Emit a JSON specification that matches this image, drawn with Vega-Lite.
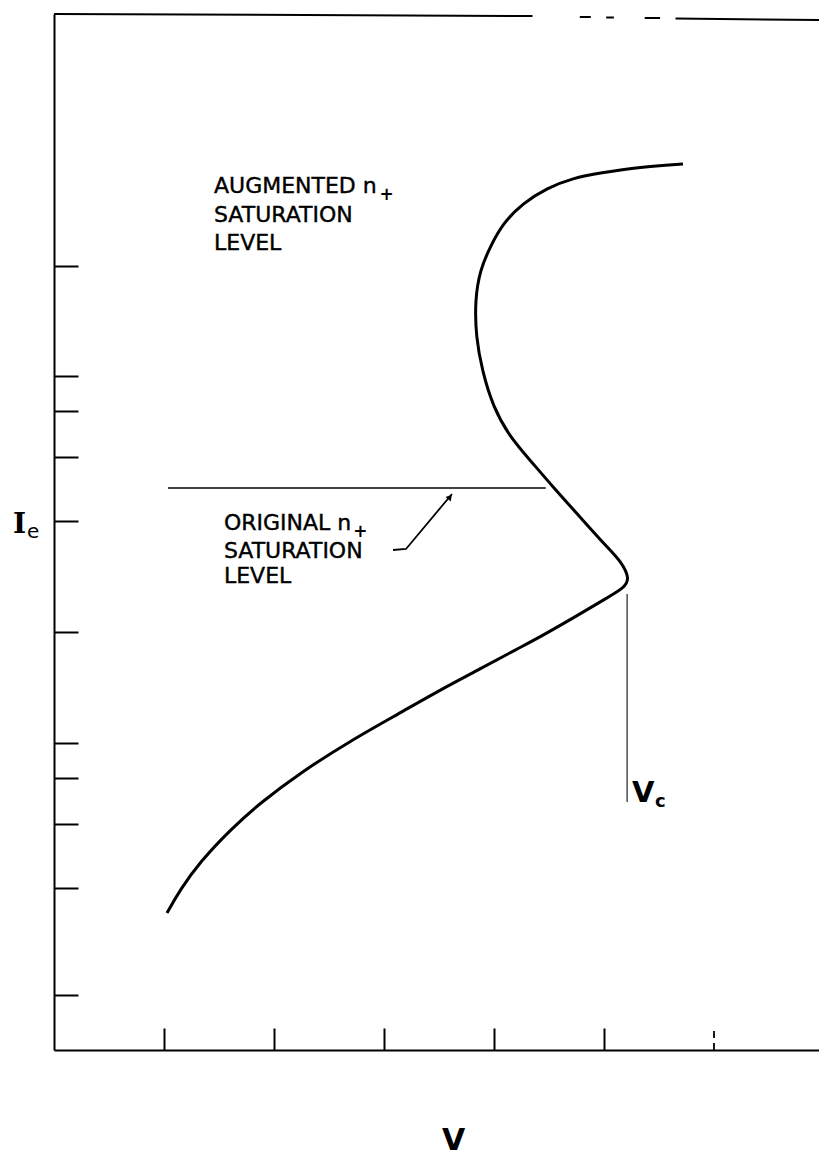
{
  "$schema": "https://vega.github.io/schema/vega-lite/v6.json",
  "width": 765,
  "height": 1036,
  "autosize": {"type": "none"},
  "padding": {"left": 54, "top": 14, "right": 0, "bottom": 107},
  "background": "white",
  "config": {"view": {"stroke": null}},
  "datasets": {
    "curve": [
      {"i": 1, "v": 1.027, "ie": 13.7},
      {"i": 2, "v": 1.145, "ie": 16.0},
      {"i": 3, "v": 1.327, "ie": 18.8},
      {"i": 4, "v": 1.6, "ie": 22.0},
      {"i": 5, "v": 1.873, "ie": 24.7},
      {"i": 6, "v": 2.236, "ie": 27.7},
      {"i": 7, "v": 2.691, "ie": 30.9},
      {"i": 8, "v": 3.145, "ie": 33.7},
      {"i": 9, "v": 3.509, "ie": 36.0},
      {"i": 10, "v": 3.873, "ie": 38.1},
      {"i": 11, "v": 4.209, "ie": 40.1},
      {"i": 12, "v": 4.418, "ie": 41.3},
      {"i": 13, "v": 4.718, "ie": 43.2},
      {"i": 14, "v": 5.027, "ie": 45.2},
      {"i": 15, "v": 5.18, "ie": 46.2},
      {"i": 16, "v": 5.235, "ie": 47.1},
      {"i": 17, "v": 5.16, "ie": 48.8},
      {"i": 18, "v": 5.027, "ie": 50.3},
      {"i": 19, "v": 4.782, "ie": 53.3},
      {"i": 20, "v": 4.536, "ie": 56.3},
      {"i": 21, "v": 4.327, "ie": 59.0},
      {"i": 22, "v": 4.145, "ie": 61.3},
      {"i": 23, "v": 3.991, "ie": 64.3},
      {"i": 24, "v": 3.891, "ie": 68.0},
      {"i": 25, "v": 3.836, "ie": 71.3},
      {"i": 26, "v": 3.827, "ie": 75.0},
      {"i": 27, "v": 3.873, "ie": 78.0},
      {"i": 28, "v": 3.964, "ie": 80.3},
      {"i": 29, "v": 4.082, "ie": 82.7},
      {"i": 30, "v": 4.264, "ie": 84.7},
      {"i": 31, "v": 4.482, "ie": 86.2},
      {"i": 32, "v": 4.718, "ie": 87.2},
      {"i": 33, "v": 4.964, "ie": 87.7},
      {"i": 34, "v": 5.327, "ie": 88.3},
      {"i": 35, "v": 5.718, "ie": 88.6}
    ],
    "frame": [
      {"v": 0, "v2": 4.35, "ie": 103.6, "ie2": 103.4},
      {"v": 4.78, "v2": 4.88, "ie": 103.3, "ie2": 103.3},
      {"v": 5.02, "v2": 5.09, "ie": 103.25, "ie2": 103.25},
      {"v": 5.37, "v2": 5.51, "ie": 103.2, "ie2": 103.2},
      {"v": 5.65, "v2": 6.96, "ie": 103.15, "ie2": 103.0}
    ],
    "levels": [
      {"v": 1.036, "v2": 4.47, "ie": 56.2, "ie2": 56.2}
    ],
    "vc": [
      {"v": 5.21, "v2": 5.21, "ie": 45.6, "ie2": 24.8}
    ],
    "leader": [
      {"i": 1, "v": 3.082, "ie": 50.0},
      {"i": 2, "v": 3.2, "ie": 50.1},
      {"i": 3, "v": 3.618, "ie": 55.6}
    ],
    "arrowhead": [{"v": 3.6, "ie": 55.3}],
    "notes": [
      {"v": 1.4545, "ie": 85.7, "label": "AUGMENTED  n"},
      {"v": 1.4545, "ie": 82.8, "label": "SATURATION"},
      {"v": 1.4545, "ie": 80.0, "label": "LEVEL"},
      {"v": 1.545, "ie": 52.0, "label": "ORIGINAL  n"},
      {"v": 1.545, "ie": 49.2, "label": "SATURATION"},
      {"v": 1.545, "ie": 46.7, "label": "LEVEL"}
    ],
    "plus": [
      {"v": 2.96, "ie": 85.0, "label": "+"},
      {"v": 2.72, "ie": 51.3, "label": "+"}
    ],
    "bigV": [{"v": 5.2545, "ie": 24.8, "label": "V"}],
    "subc": [{"v": 5.464, "ie": 24.3, "label": "c"}],
    "bigI": [{"v": -0.373, "ie": 51.7, "label": "I"}],
    "sube": [{"v": -0.245, "ie": 51.2, "label": "e"}],
    "lastTick": [{"v": 6, "ie": 0, "ie2": 2.2}]
  },
  "layer": [
    {
      "data": {"name": "curve"},
      "mark": {"type": "line", "color": "black", "strokeWidth": 3, "interpolate": "basis", "clip": false},
      "encoding": {
        "x": {
          "field": "v", "type": "quantitative",
          "scale": {"domain": [0, 6.9545], "nice": false, "zero": false},
          "axis": {
            "values": [1, 2, 3, 4, 5],
            "labels": false, "grid": false,
            "tickSize": -22, "tickWidth": 2, "tickColor": "black",
            "domainColor": "black", "domainWidth": 2,
            "title": "V", "titleFont": "DejaVu Sans", "titleFontSize": 30,
            "titleFontWeight": "bold", "titleColor": "black",
            "titleX": 399, "titleY": 90, "titleBaseline": "middle", "titleAlign": "center"
          }
        },
        "y": {
          "field": "ie", "type": "quantitative",
          "scale": {"domain": [0, 103.6], "nice": false, "zero": false},
          "axis": {
            "values": [5.5, 16.2, 22.6, 27.2, 30.7, 41.8, 52.9, 59.3, 63.9, 67.4, 78.4],
            "labels": false, "grid": false,
            "tickSize": -24, "tickWidth": 2, "tickColor": "black",
            "domainColor": "black", "domainWidth": 2,
            "title": null
          }
        },
        "order": {"field": "i", "type": "quantitative"}
      }
    },
    {
      "data": {"name": "frame"},
      "mark": {"type": "rule", "color": "black", "strokeWidth": 2, "clip": false},
      "encoding": {
        "x": {"field": "v", "type": "quantitative"},
        "x2": {"field": "v2"},
        "y": {"field": "ie", "type": "quantitative"},
        "y2": {"field": "ie2"}
      }
    },
    {
      "data": {"name": "levels"},
      "mark": {"type": "rule", "color": "black", "strokeWidth": 1.6},
      "encoding": {
        "x": {"field": "v", "type": "quantitative"},
        "x2": {"field": "v2"},
        "y": {"field": "ie", "type": "quantitative"},
        "y2": {"field": "ie2"}
      }
    },
    {
      "data": {"name": "vc"},
      "mark": {"type": "rule", "color": "#222222", "strokeWidth": 1.2},
      "encoding": {
        "x": {"field": "v", "type": "quantitative"},
        "y": {"field": "ie", "type": "quantitative"},
        "y2": {"field": "ie2"}
      }
    },
    {
      "data": {"name": "lastTick"},
      "mark": {"type": "rule", "color": "black", "strokeWidth": 1.8, "strokeDash": [7, 5]},
      "encoding": {
        "x": {"field": "v", "type": "quantitative"},
        "y": {"field": "ie", "type": "quantitative"},
        "y2": {"field": "ie2"}
      }
    },
    {
      "data": {"name": "leader"},
      "mark": {"type": "line", "color": "black", "strokeWidth": 1.8},
      "encoding": {
        "x": {"field": "v", "type": "quantitative"},
        "y": {"field": "ie", "type": "quantitative"},
        "order": {"field": "i", "type": "quantitative"}
      }
    },
    {
      "data": {"name": "arrowhead"},
      "mark": {"type": "point", "shape": "triangle-up", "filled": true, "color": "black", "size": 45, "angle": 40, "opacity": 1},
      "encoding": {
        "x": {"field": "v", "type": "quantitative"},
        "y": {"field": "ie", "type": "quantitative"}
      }
    },
    {
      "data": {"name": "notes"},
      "mark": {"type": "text", "font": "DejaVu Sans", "fontSize": 22, "align": "left", "baseline": "alphabetic", "color": "black", "stroke": "black", "strokeWidth": 0.4},
      "encoding": {
        "x": {"field": "v", "type": "quantitative"},
        "y": {"field": "ie", "type": "quantitative"},
        "text": {"field": "label"}
      }
    },
    {
      "data": {"name": "plus"},
      "mark": {"type": "text", "font": "DejaVu Sans", "fontSize": 17, "fontWeight": "bold", "align": "left", "baseline": "alphabetic", "color": "black"},
      "encoding": {
        "x": {"field": "v", "type": "quantitative"},
        "y": {"field": "ie", "type": "quantitative"},
        "text": {"field": "label"}
      }
    },
    {
      "data": {"name": "bigV"},
      "mark": {"type": "text", "font": "DejaVu Sans", "fontSize": 29, "fontWeight": "bold", "align": "left", "baseline": "alphabetic", "color": "black"},
      "encoding": {
        "x": {"field": "v", "type": "quantitative"},
        "y": {"field": "ie", "type": "quantitative"},
        "text": {"field": "label"}
      }
    },
    {
      "data": {"name": "subc"},
      "mark": {"type": "text", "font": "DejaVu Sans", "fontSize": 18, "fontWeight": "bold", "align": "left", "baseline": "alphabetic", "color": "black"},
      "encoding": {
        "x": {"field": "v", "type": "quantitative"},
        "y": {"field": "ie", "type": "quantitative"},
        "text": {"field": "label"}
      }
    },
    {
      "data": {"name": "bigI"},
      "mark": {"type": "text", "font": "DejaVu Serif", "fontSize": 28, "fontWeight": "bold", "align": "left", "baseline": "alphabetic", "color": "black", "clip": false},
      "encoding": {
        "x": {"field": "v", "type": "quantitative"},
        "y": {"field": "ie", "type": "quantitative"},
        "text": {"field": "label"}
      }
    },
    {
      "data": {"name": "sube"},
      "mark": {"type": "text", "font": "DejaVu Sans", "fontSize": 20, "align": "left", "baseline": "alphabetic", "color": "black", "clip": false},
      "encoding": {
        "x": {"field": "v", "type": "quantitative"},
        "y": {"field": "ie", "type": "quantitative"},
        "text": {"field": "label"}
      }
    }
  ]
}
